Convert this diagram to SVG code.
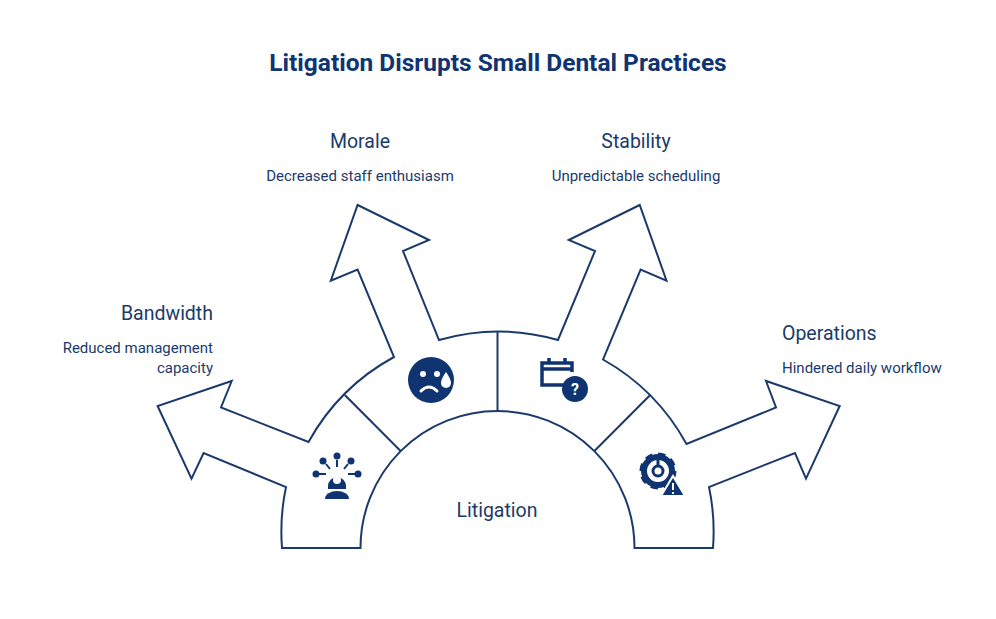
<svg xmlns="http://www.w3.org/2000/svg" width="996" height="619" viewBox="0 0 996 619">
<style>
text{font-family:Roboto,"Liberation Sans",sans-serif;fill:#1b3a6b}
.t{font-size:19.5px}.d{font-size:15px}
.ln{fill:none;stroke:#1b3a6b;stroke-width:2}
.ic{fill:#0f3471}
</style>
<rect width="996" height="619" fill="#fff"/>
<text x="498" y="71" text-anchor="middle" style="font-size:24.5px;font-weight:bold;fill:#0f3471">Litigation Disrupts Small Dental Practices</text>
<g id="connectors">
<path class="ln" d="M282,548 A216,216 0 0 1 286,487 L203.6,453 L191.5,478.6 L157.6,406 L231.7,381 L221,407.5 L308.5,442 A216,216 0 0 1 394,357 L357.6,269.5 L330.8,280.6 L357.6,205 L429,240 L403,251 L439,340 A216,216 0 0 1 558,340 L595,251 L568.7,240 L639.7,205 L666.5,280.6 L640.6,269.5 L603,359.5 A216,216 0 0 1 686.5,444 L776,407.5 L766,381 L839.7,406 L806,478.6 L795,453 L709,487 A216,216 0 0 1 713,548 L634.5,548 A137,137 0 0 0 360.5,548 Z"/>
<line class="ln" x1="497.5" y1="332" x2="497.5" y2="411"/>
<line class="ln" x1="400.6" y1="451" x2="344.8" y2="395"/>
<line class="ln" x1="594.4" y1="451" x2="650.2" y2="395"/>
</g>
<g id="litigation"><text class="t" x="497" y="517" text-anchor="middle">Litigation</text></g>
<g id="bandwidth">
<text class="t" x="213" y="320" text-anchor="end">Bandwidth</text>
<text class="d" x="213" y="353" text-anchor="end">Reduced management</text>
<text class="d" x="213" y="373" text-anchor="end">capacity</text>
<g class="ic">
<circle cx="337" cy="456" r="3.5"/><circle cx="323" cy="461" r="3.5"/><circle cx="351" cy="461" r="3.5"/><circle cx="316" cy="474" r="3.5"/><circle cx="358" cy="474" r="3.5"/>
<path d="M337,460v7M326,464l4,5M348,464l-4,5M319,474h7M355,474h-7" stroke="#0f3471" stroke-width="2"/>
<path d="M328,486 a9,9 0 0 1 18,0 v3 h-18z"/>
<circle cx="337" cy="480" r="4" fill="#fff"/>
<path d="M325,499 a12,8 0 0 1 24,0z"/>
</g>
</g>
<g id="morale">
<text class="t" x="360" y="148" text-anchor="middle">Morale</text>
<text class="d" x="360" y="181" text-anchor="middle">Decreased staff enthusiasm</text>
<circle class="ic" cx="431" cy="380" r="23"/>
<circle cx="423" cy="374" r="3" fill="#fff"/><circle cx="437" cy="374" r="3" fill="#fff"/>
<path d="M421,391 q8,-8 16,0" fill="none" stroke="#fff" stroke-width="3" stroke-linecap="round"/>
<path d="M446,372 q5,7 5,11 a5,5 0 0 1 -10,0 q0,-4 5,-11z" fill="#fff"/>
</g>
<g id="stability">
<text class="t" x="636" y="148" text-anchor="middle">Stability</text>
<text class="d" x="636" y="181" text-anchor="middle">Unpredictable scheduling</text>
<path d="M564,385 h-22 v-22 h30 v9 M542,369 h30 M549,358 v6 M565,358 v6" fill="none" stroke="#0f3471" stroke-width="3.5"/>
<circle class="ic" cx="575" cy="389" r="13"/>
<text x="575" y="395" text-anchor="middle" style="font-size:16px;font-weight:bold;fill:#fff">?</text>
</g>
<g id="operations">
<text class="t" x="782" y="340" text-anchor="start">Operations</text>
<text class="d" x="782" y="373" text-anchor="start">Hindered daily workflow</text>
<circle cx="658" cy="471" r="16" fill="none" stroke="#0f3471" stroke-width="5" stroke-dasharray="7 5.5"/>
<circle cx="658" cy="471" r="14" fill="none" stroke="#0f3471" stroke-width="6"/>
<circle cx="658" cy="471" r="5" fill="none" stroke="#0f3471" stroke-width="3"/>
<path d="M658,457v9" stroke="#0f3471" stroke-width="3"/>
<path d="M673,476 l12,20 h-24z" class="ic" stroke="#fff" stroke-width="2"/>
<path d="M673,483v7M673,492v2" stroke="#fff" stroke-width="2"/>
</g>
</svg>
